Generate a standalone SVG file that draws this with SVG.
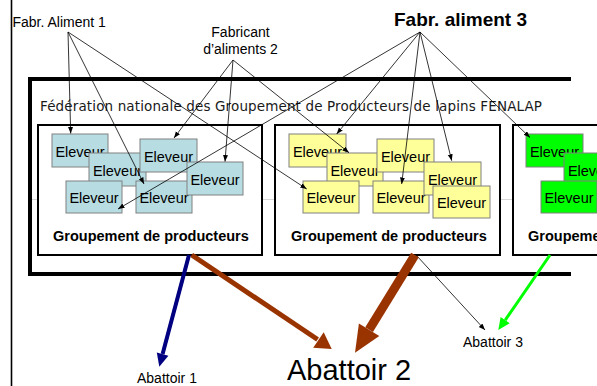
<svg xmlns="http://www.w3.org/2000/svg" width="597" height="386" viewBox="0 0 597 386">
<defs>
<marker id="ah" markerUnits="userSpaceOnUse" markerWidth="7" markerHeight="6" refX="6.5" refY="2.5" orient="auto">
<path d="M0,0 L6.5,2.5 L0,5 z" fill="#000"/>
</marker>
</defs>
<style>
text{font-family:"Liberation Sans",Arial,sans-serif;fill:#000}
.lbl{font-size:14px}
.elv{font-size:14.5px;text-anchor:middle}
.grp{font-size:14.5px;font-weight:bold}
.gbox{fill:#fff;stroke:#000;stroke-width:2}
.b{fill:#b7dde2;stroke:#808080;stroke-width:1}
.y{fill:#ffff99;stroke:#808080;stroke-width:1}
.g{fill:#00ff00;stroke:#808080;stroke-width:1}
.thin{stroke:#000;stroke-width:0.8;fill:none;marker-end:url(#ah)}
</style>
<rect width="597" height="386" fill="#fff"/>
<line x1="11.5" y1="0" x2="11.5" y2="386" stroke="#000" stroke-width="1.6"/>

<g id="fenalap">
<line x1="32" y1="199.5" x2="597" y2="199.5" stroke="#d8d8d8" stroke-width="1"/>
<path d="M571,79 H30 V274 H571" fill="none" stroke="#000" stroke-width="4"/>
<text x="40" y="111" style="font-family:'DejaVu Sans',Verdana,sans-serif;font-size:13.5px;fill:#1a1a1a" textLength="502">Fédération nationale des Groupement de Producteurs de lapins FENALAP</text>
</g>

<g id="fabr1"><text class="lbl" x="12.5" y="27">Fabr. Aliment 1</text></g>
<g id="fabr2">
<text class="lbl" x="240.5" y="37" text-anchor="middle">Fabricant</text>
<text class="lbl" x="240.5" y="53.5" text-anchor="middle">d’aliments 2</text>
</g>
<g id="fabr3"><text x="394" y="26" style="font-size:19px;font-weight:bold">Fabr. aliment 3</text></g>

<g id="groupement1">
<rect class="gbox" x="38" y="125" width="224" height="130"/>
<text class="grp" x="53" y="241">Groupement de producteurs</text>
<g id="eleveur1a"><rect class="b" x="52" y="134" width="56" height="33"/><text class="elv" x="80" y="156.5">Eleveur</text></g>
<g id="eleveur1b"><rect class="b" x="89" y="153" width="57" height="33"/><text class="elv" x="117.5" y="175.5">Eleveur</text></g>
<g id="eleveur1c"><rect class="b" x="140" y="139" width="57" height="33"/><text class="elv" x="168.5" y="161.5">Eleveur</text></g>
<g id="eleveur1f"><rect class="b" x="66" y="181" width="56" height="32"/><text class="elv" x="94" y="203">Eleveur</text></g>
<g id="eleveur1e"><rect class="b" x="136" y="181" width="56" height="32"/><text class="elv" x="164" y="203">Eleveur</text></g>
<g id="eleveur1d"><rect class="b" x="187" y="162" width="56" height="33"/><text class="elv" x="215" y="184.5">Eleveur</text></g>
</g>

<g id="groupement2">
<rect class="gbox" x="275" y="125" width="225" height="130"/>
<text class="grp" x="291" y="241">Groupement de producteurs</text>
<g id="eleveur2g"><rect class="y" x="289" y="134" width="57" height="33"/><text class="elv" x="317.5" y="156.5">Eleveur</text></g>
<g id="eleveur2h"><rect class="y" x="327" y="153" width="56" height="33"/><text class="elv" x="355" y="175.5">Eleveur</text></g>
<g id="eleveur2i"><rect class="y" x="377" y="139" width="57" height="33"/><text class="elv" x="405.5" y="161.5">Eleveur</text></g>
<g id="eleveur2k"><rect class="y" x="303" y="181" width="56" height="32"/><text class="elv" x="331" y="203">Eleveur</text></g>
<g id="eleveur2l"><rect class="y" x="373" y="181" width="56" height="32"/><text class="elv" x="401" y="203">Eleveur</text></g>
<g id="eleveur2j"><rect class="y" x="424" y="162" width="57" height="33"/><text class="elv" x="452.5" y="184.5">Eleveur</text></g>
<g id="eleveur2m"><rect class="y" x="433" y="186" width="57" height="32"/><text class="elv" x="461.5" y="208">Eleveur</text></g>
</g>

<g id="groupement3">
<rect class="gbox" x="513" y="125" width="110" height="130"/>
<text class="grp" x="528" y="241">Groupement de producteurs</text>
<g id="eleveur3n"><rect class="g" x="526" y="134" width="57" height="33"/><text class="elv" x="554.5" y="156.5">Eleveur</text></g>
<g id="eleveur3o"><rect class="g" x="564" y="153" width="57" height="33"/><text class="elv" x="592.5" y="175.5">Eleveur</text></g>
<g id="eleveur3p"><rect class="g" x="541" y="181" width="56" height="32"/><text class="elv" x="569" y="203">Eleveur</text></g>
</g>

<g id="abattoir1"><text x="137" y="383" style="font-size:14px">Abattoir 1</text></g>
<g id="abattoir2"><text x="287" y="380" style="font-size:29px">Abattoir 2</text></g>
<g id="abattoir3"><text x="463" y="347" style="font-size:14px">Abattoir 3</text></g>

<g id="connectors">
<line class="thin" x1="68" y1="32" x2="70.7" y2="133.5"/>
<line class="thin" x1="68" y1="32" x2="144" y2="184"/>
<line class="thin" x1="68" y1="32" x2="306.7" y2="189"/>
<line class="thin" x1="233" y1="60" x2="174" y2="138"/>
<line class="thin" x1="233" y1="60" x2="225" y2="161.5"/>
<line class="thin" x1="233" y1="60" x2="349" y2="152.7"/>
<line class="thin" x1="420" y1="32" x2="118" y2="209"/>
<line class="thin" x1="420" y1="32" x2="336.7" y2="134"/>
<line class="thin" x1="420" y1="32" x2="401.7" y2="184"/>
<line class="thin" x1="420" y1="32" x2="451.7" y2="160.7"/>
<line class="thin" x1="420" y1="32" x2="530" y2="137.5"/>
<line class="thin" x1="417" y1="256" x2="485" y2="330"/>

<line x1="189" y1="255" x2="162.6" y2="354.1" stroke="#000080" stroke-width="4"/>
<polygon points="159.3,366.7 168.4,355.7 156.8,352.6" fill="#000080"/>

<line x1="191.7" y1="255" x2="317.6" y2="339.5" stroke="#993300" stroke-width="5"/>
<polygon points="331.7,349 313.2,347.7 323.7,332.3" fill="#993300"/>

<line x1="415" y1="255" x2="369.1" y2="329.7" stroke="#993300" stroke-width="9"/>
<polygon points="355,352.7 379.3,336 358.9,323.4" fill="#993300"/>

<line x1="550" y1="255" x2="505.2" y2="320.2" stroke="#00ff00" stroke-width="3"/>
<polygon points="498.3,330 509.7,323.3 500.6,317" fill="#00ff00"/>
</g>
</svg>
